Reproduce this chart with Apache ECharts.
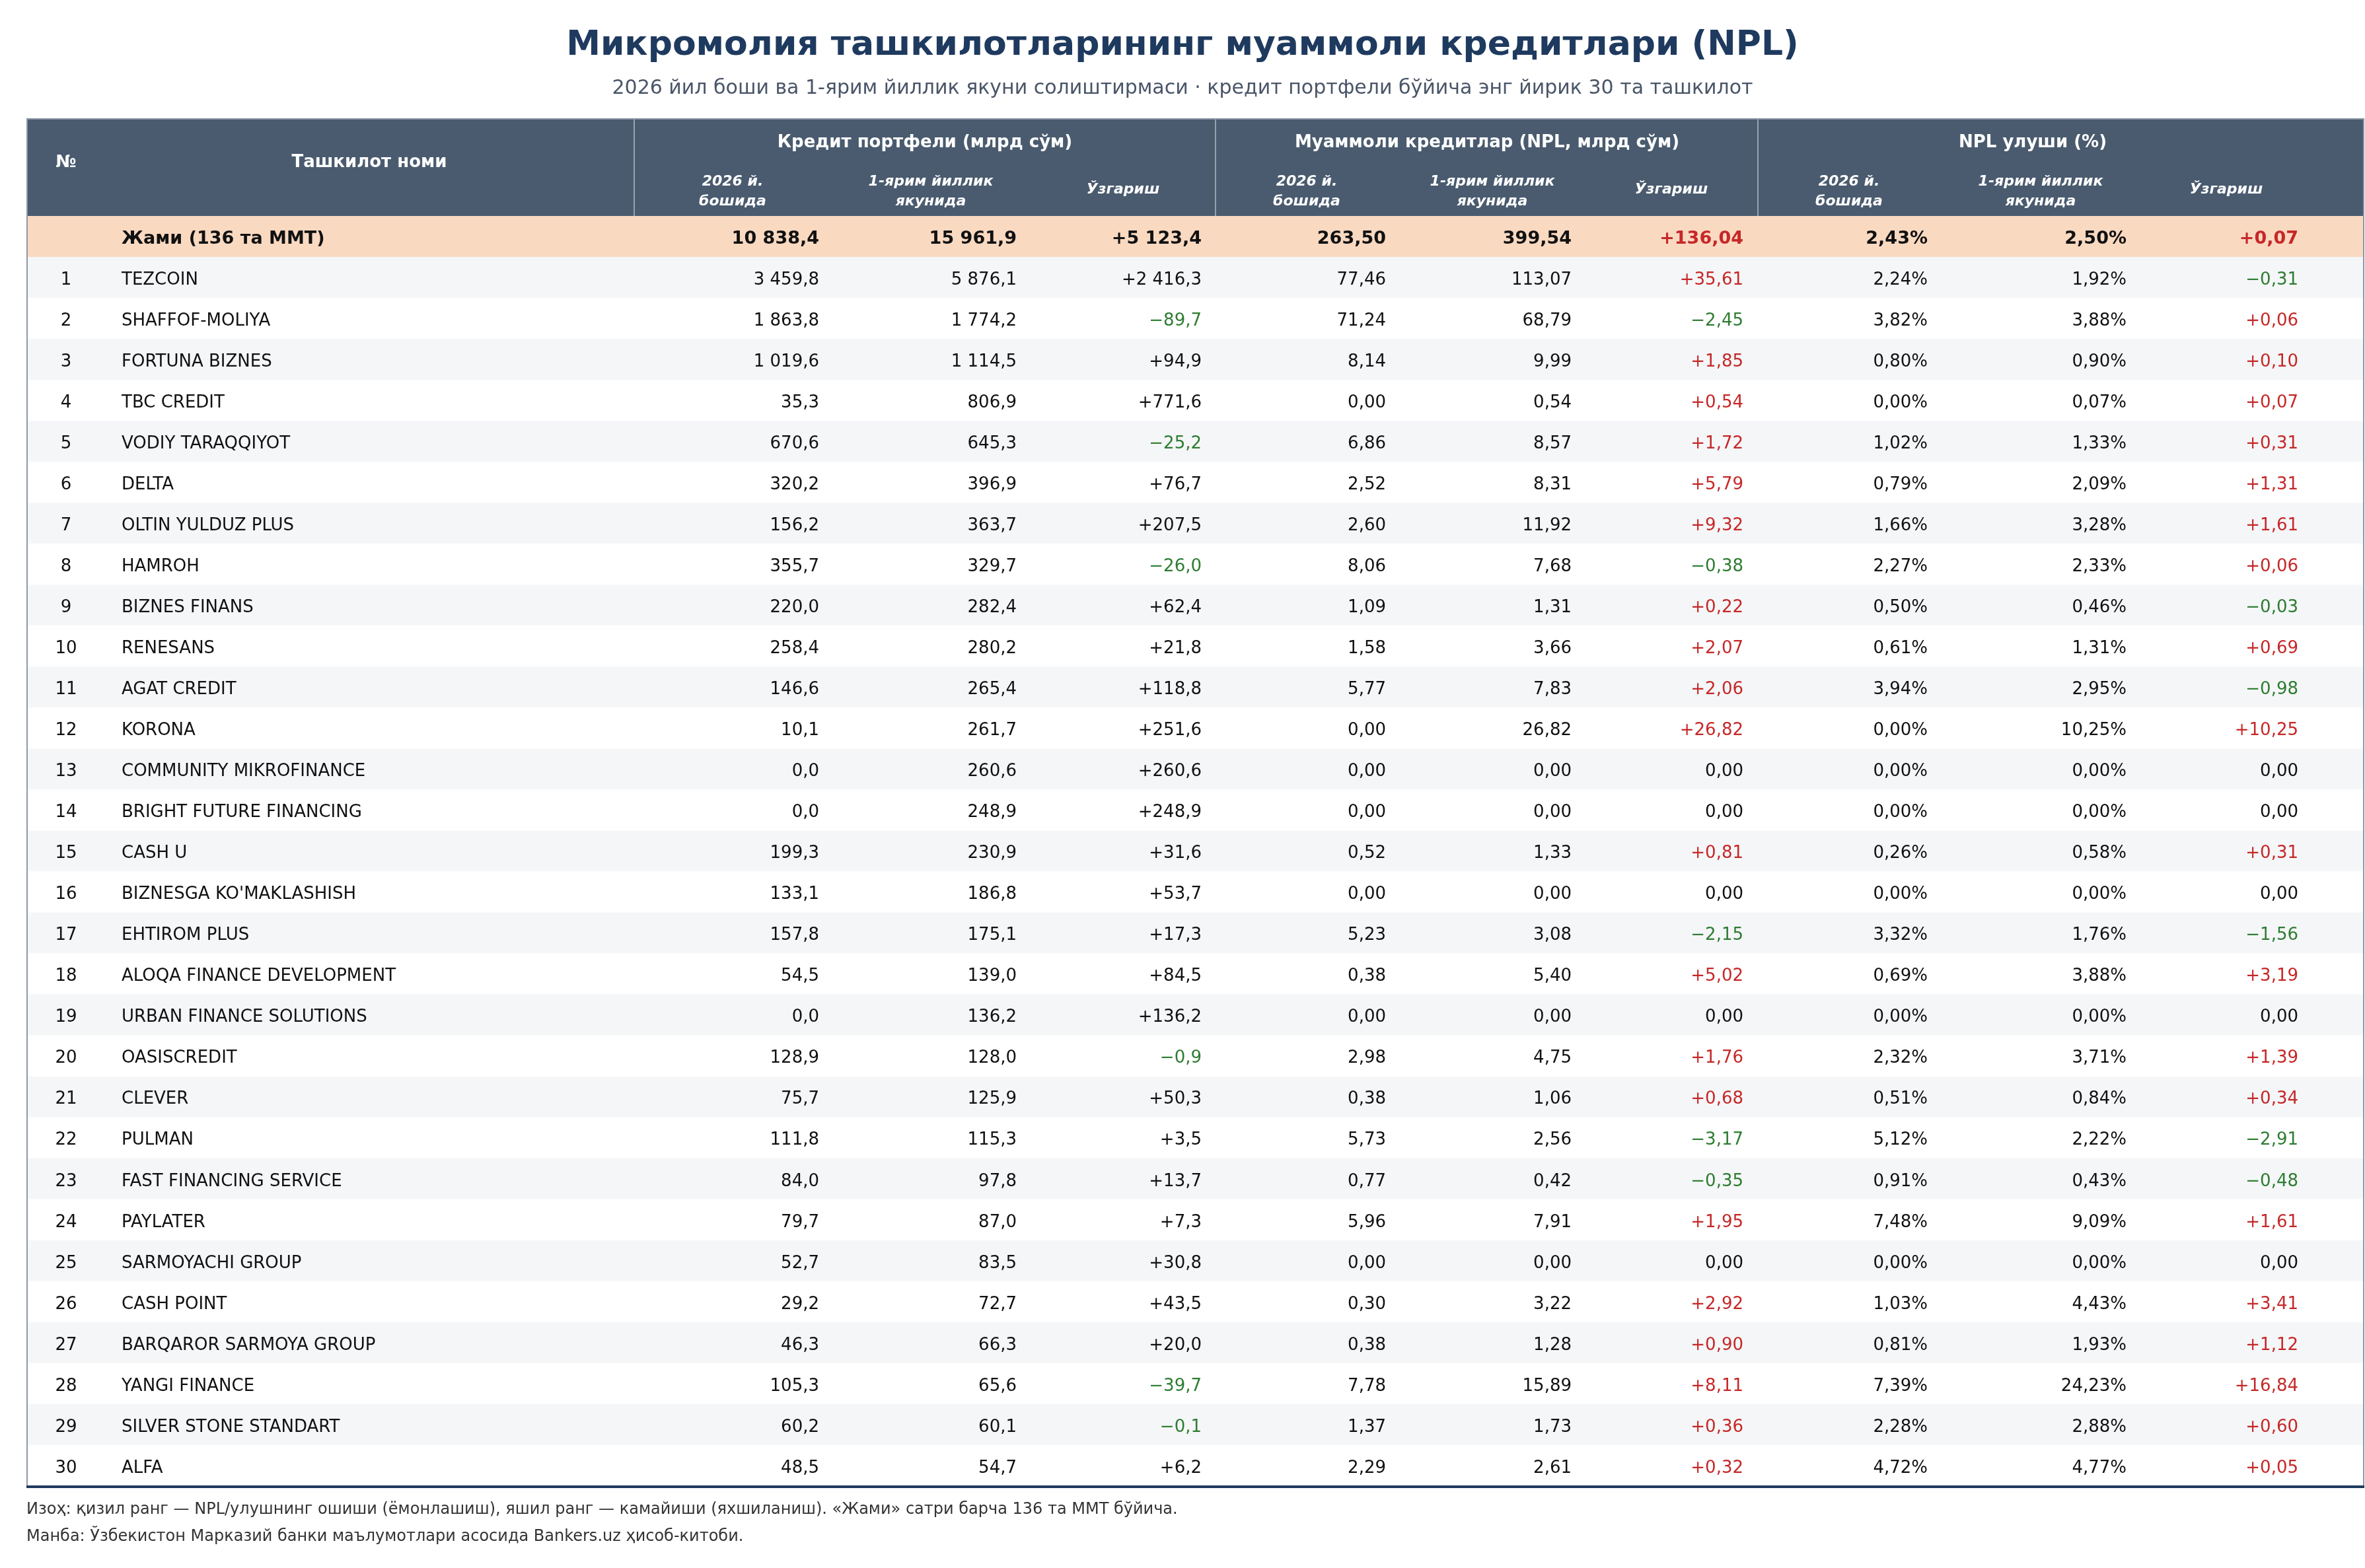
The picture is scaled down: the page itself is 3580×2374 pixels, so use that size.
<!DOCTYPE html>
<html>
<head>
<meta charset="utf-8">
<script src="https://cdn.jsdelivr.net/npm/echarts@6/dist/echarts.min.js"></script>
<style>
  html, body { margin: 0; padding: 0; background: #fff; }
  #main { width: 3580px; height: 2374px; }
</style>
</head>
<body>
<div id="main"></div>
<script>
// ---- data ----
var names = ['TEZCOIN', 'SHAFFOF-MOLIYA', 'FORTUNA BIZNES', 'TBC CREDIT', 'VODIY TARAQQIYOT', 'DELTA',
  'OLTIN YULDUZ PLUS', 'HAMROH', 'BIZNES FINANS', 'RENESANS', 'AGAT CREDIT', 'KORONA',
  'COMMUNITY MIKROFINANCE', 'BRIGHT FUTURE FINANCING', 'CASH U', "BIZNESGA KO'MAKLASHISH",
  'EHTIROM PLUS', 'ALOQA FINANCE DEVELOPMENT', 'URBAN FINANCE SOLUTIONS', 'OASISCREDIT', 'CLEVER',
  'PULMAN', 'FAST FINANCING SERVICE', 'PAYLATER', 'SARMOYACHI GROUP', 'CASH POINT',
  'BARQAROR SARMOYA GROUP', 'YANGI FINANCE', 'SILVER STONE STANDART', 'ALFA'];

// кредит портфели, млрд сўм
var loanStart = [3459.8, 1863.8, 1019.6, 35.3, 670.6, 320.2, 156.2, 355.7, 220.0, 258.4, 146.6, 10.1,
  0.0, 0.0, 199.3, 133.1, 157.8, 54.5, 0.0, 128.9, 75.7, 111.8, 84.0, 79.7, 52.7, 29.2, 46.3, 105.3, 60.2, 48.5];
var loanH1 = [5876.1, 1774.2, 1114.5, 806.9, 645.3, 396.9, 363.7, 329.7, 282.4, 280.2, 265.4, 261.7,
  260.6, 248.9, 230.9, 186.8, 175.1, 139.0, 136.2, 128.0, 125.9, 115.3, 97.8, 87.0, 83.5, 72.7, 66.3, 65.6, 60.1, 54.7];
var loanChg = [2416.3, -89.7, 94.9, 771.6, -25.2, 76.7, 207.5, -26.0, 62.4, 21.8, 118.8, 251.6,
  260.6, 248.9, 31.6, 53.7, 17.3, 84.5, 136.2, -0.9, 50.3, 3.5, 13.7, 7.3, 30.8, 43.5, 20.0, -39.7, -0.1, 6.2];

// муаммоли кредитлар (NPL), млрд сўм
var nplStart = [77.46, 71.24, 8.14, 0.00, 6.86, 2.52, 2.60, 8.06, 1.09, 1.58, 5.77, 0.00,
  0.00, 0.00, 0.52, 0.00, 5.23, 0.38, 0.00, 2.98, 0.38, 5.73, 0.77, 5.96, 0.00, 0.30, 0.38, 7.78, 1.37, 2.29];
var nplH1 = [113.07, 68.79, 9.99, 0.54, 8.57, 8.31, 11.92, 7.68, 1.31, 3.66, 7.83, 26.82,
  0.00, 0.00, 1.33, 0.00, 3.08, 5.40, 0.00, 4.75, 1.06, 2.56, 0.42, 7.91, 0.00, 3.22, 1.28, 15.89, 1.73, 2.61];
var nplChg = [35.61, -2.45, 1.85, 0.54, 1.72, 5.79, 9.32, -0.38, 0.22, 2.07, 2.06, 26.82,
  0.00, 0.00, 0.81, 0.00, -2.15, 5.02, 0.00, 1.76, 0.68, -3.17, -0.35, 1.95, 0.00, 2.92, 0.90, 8.11, 0.36, 0.32];

// NPL улуши, %
var shareStart = [2.24, 3.82, 0.80, 0.00, 1.02, 0.79, 1.66, 2.27, 0.50, 0.61, 3.94, 0.00,
  0.00, 0.00, 0.26, 0.00, 3.32, 0.69, 0.00, 2.32, 0.51, 5.12, 0.91, 7.48, 0.00, 1.03, 0.81, 7.39, 2.28, 4.72];
var shareH1 = [1.92, 3.88, 0.90, 0.07, 1.33, 2.09, 3.28, 2.33, 0.46, 1.31, 2.95, 10.25,
  0.00, 0.00, 0.58, 0.00, 1.76, 3.88, 0.00, 3.71, 0.84, 2.22, 0.43, 9.09, 0.00, 4.43, 1.93, 24.23, 2.88, 4.77];
var shareChg = [-0.31, 0.06, 0.10, 0.07, 0.31, 1.31, 1.61, 0.06, -0.03, 0.69, -0.98, 10.25,
  0.00, 0.00, 0.31, 0.00, -1.56, 3.19, 0.00, 1.39, 0.34, -2.91, -0.48, 1.61, 0.00, 3.41, 1.12, 16.84, 0.60, 0.05];

// жами (136 та ММТ)
var totalLabel = 'Жами (136 та ММТ)';
var totals = [10838.4, 15961.9, 5123.4, 263.50, 399.54, 136.04, 2.43, 2.50, 0.07];

// сарлавҳалар
var groupHeaders = ['Кредит портфели (млрд сўм)', 'Муаммоли кредитлар (NPL, млрд сўм)', 'NPL улуши (%)'];
var subHeaders = [['2026 й.', 'бошида'], ['1-ярим йиллик', 'якунида'], ['Ўзгариш']];
var titleText = 'Микромолия ташкилотларининг муаммоли кредитлари (NPL)';
var subtitleText = '2026 йил боши ва 1-ярим йиллик якуни солиштирмаси · кредит портфели бўйича энг йирик 30 та ташкилот';
var notes = [
  'Изоҳ: қизил ранг — NPL/улушнинг ошиши (ёмонлашиш), яшил ранг — камайиши (яхшиланиш). «Жами» сатри барча 136 та ММТ бўйича.',
  'Манба: Ўзбекистон Марказий банки маълумотлари асосида Bankers.uz ҳисоб-китоби.'
];

// ---- layout ----
var FONT = '"DejaVu Sans"';
var RED = '#c62828', GREEN = '#2e7d32', INK = '#111';
var tableL = 41, tableR = 3578, headTop = 181, headBot = 327, tableBot = 2250;
var numX = 100, nameX = 184;
var colRight = [1240, 1539, 1819, 2098, 2379, 2639, 2918, 3219, 3479];
var subCenters = [1109, 1409, 1700, 1978, 2259, 2530, 2799, 3089, 3370];
var groupCenters = [1400, 2251, 3077];
var groupSeps = [960, 1840, 2661];
var textShift = 4; // optical centring of cell text

function fmt(v, d) {
  var s = Math.abs(v).toFixed(d).split('.');
  var ip = s[0].replace(/\B(?=(\d{3})+(?!\d))/g, ' ');
  return ip + (d ? ',' + s[1] : '');
}
function signed(v, d) {
  if (v === 0) return fmt(v, d);
  return (v > 0 ? '+' : '\u2212') + fmt(v, d);
}

// cells: [text, colour] per column
function rowCells(v) {
  return [
    [fmt(v[0], 1), INK],
    [fmt(v[1], 1), INK],
    [signed(v[2], 1), v[2] < 0 ? GREEN : INK],
    [fmt(v[3], 2), INK],
    [fmt(v[4], 2), INK],
    [signed(v[5], 2), v[5] > 0 ? RED : (v[5] < 0 ? GREEN : INK)],
    [fmt(v[6], 2) + '%', INK],
    [fmt(v[7], 2) + '%', INK],
    [signed(v[8], 2), v[8] > 0 ? RED : (v[8] < 0 ? GREEN : INK)]
  ];
}

var rowLabels = [totalLabel].concat(names);
var rowValues = [totals].concat(names.map(function (n, i) {
  return [loanStart[i], loanH1[i], loanChg[i], nplStart[i], nplH1[i], nplChg[i],
    shareStart[i], shareH1[i], shareChg[i]];
}));

var chart = echarts.init(document.getElementById('main'), null, { renderer: 'canvas' });

function txt(text, x, y, font, fill, align) {
  return {
    type: 'text',
    style: {
      text: text, x: x, y: y, font: font, fill: fill,
      textAlign: align || 'left', align: align || 'left',
      textVerticalAlign: 'middle', verticalAlign: 'middle'
    }
  };
}

var graphics = [];
// title
graphics.push(txt(titleText, 1790, 69, 'bold 52px ' + FONT, '#1f3a5f', 'center'));
graphics.push(txt(subtitleText, 1790, 134, '30px ' + FONT, '#4a5568', 'center'));
// header block
graphics.push({ type: 'rect', shape: { x: tableL, y: headTop, width: tableR - tableL, height: headBot - headTop },
  style: { fill: '#4a5b6f' } });
graphics.push({ type: 'rect', shape: { x: tableL - 1, y: headTop - 2, width: tableR - tableL + 2, height: 2 },
  style: { fill: '#8d98a6' } });
groupSeps.forEach(function (x) {
  graphics.push({ type: 'rect', shape: { x: x - 1, y: headTop, width: 2, height: headBot - headTop },
    style: { fill: '#97a2af' } });
});
graphics.push(txt('№', numX, 246, 'bold 26px ' + FONT, '#fff', 'center'));
graphics.push(txt('Ташкилот номи', 559, 246, 'bold 26px ' + FONT, '#fff', 'center'));
groupHeaders.forEach(function (g, i) {
  graphics.push(txt(g, groupCenters[i], 216, 'bold 26px ' + FONT, '#fff', 'center'));
});
subCenters.forEach(function (x, i) {
  var lines = subHeaders[i % 3];
  if (lines.length === 2) {
    graphics.push(txt(lines[0], x, 275, 'italic bold 22px ' + FONT, '#fff', 'center'));
    graphics.push(txt(lines[1], x, 305, 'italic bold 22px ' + FONT, '#fff', 'center'));
  } else {
    graphics.push(txt(lines[0], x, 287, 'italic bold 22px ' + FONT, '#fff', 'center'));
  }
});
// table side borders and bottom rule
graphics.push({ type: 'rect', shape: { x: tableL - 1, y: headTop - 2, width: 2, height: tableBot - headTop + 2 },
  style: { fill: '#8d98a6' }, z: 10 });
graphics.push({ type: 'rect', shape: { x: tableR - 1, y: headTop - 2, width: 2, height: tableBot - headTop + 2 },
  style: { fill: '#8d98a6' }, z: 10 });
graphics.push({ type: 'rect', shape: { x: tableL - 1, y: tableBot - 1, width: tableR - tableL + 2, height: 4 },
  style: { fill: '#1f3a5f' }, z: 10 });
// notes
notes.forEach(function (n, i) {
  graphics.push(txt(n, 40, 2286 + i * 41, '24px ' + FONT, '#333', 'left'));
});

chart.setOption({
  backgroundColor: '#fff',
  animation: false,
  graphic: { elements: graphics },
  grid: { left: tableL, right: 3580 - tableR, top: headBot, bottom: 2374 - tableBot },
  xAxis: { type: 'value', min: 0, max: 1, show: false },
  yAxis: { type: 'category', data: rowLabels, inverse: true, show: false },
  series: [{
    type: 'custom',
    clip: false,
    data: rowLabels.map(function (l, i) { return [0, i]; }),
    renderItem: function (params, api) {
      var r = api.value(1);
      var c = api.coord([0, r]);
      var h = api.size([0, 1])[1];
      var cs = params.coordSys;
      var y = c[1];
      var ty = y + textShift;
      var isTotal = r === 0;
      var bg = isTotal ? '#fad9c1' : (r % 2 === 1 ? '#f5f6f8' : '#ffffff');
      var font = (isTotal ? 'bold 27px ' : '26px ') + FONT;
      var children = [{
        type: 'rect',
        shape: { x: cs.x, y: y - h / 2, width: cs.width, height: h },
        style: { fill: bg }
      }];
      if (!isTotal) children.push(txt(String(r), numX, ty, font, INK, 'center'));
      children.push(txt(rowLabels[r], nameX, ty, font, INK, 'left'));
      rowCells(rowValues[r]).forEach(function (cell, k) {
        children.push(txt(cell[0], colRight[k], ty, font, cell[1], 'right'));
      });
      return { type: 'group', children: children };
    }
  }]
});
</script>
</body>
</html>
